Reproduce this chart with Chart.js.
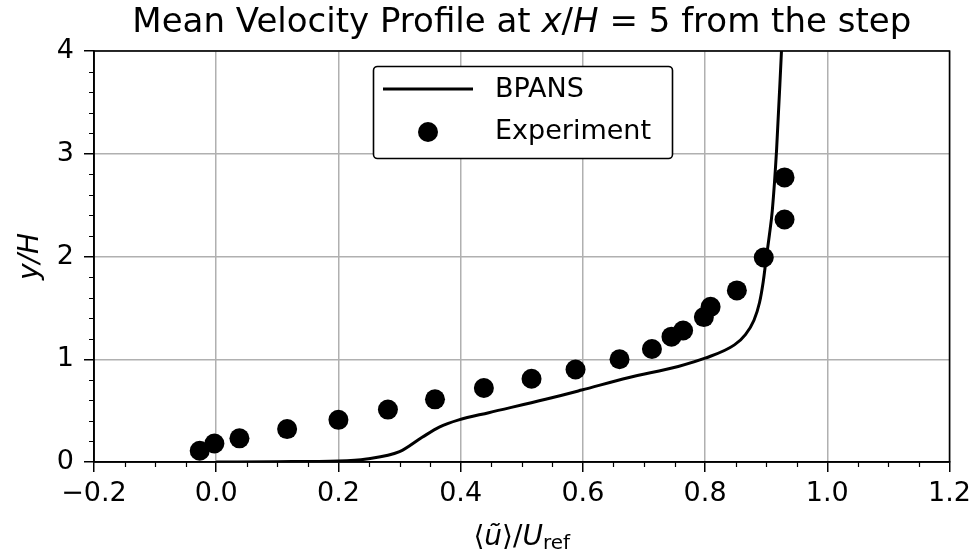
<!DOCTYPE html>
<html lang="en">
<head>
<meta charset="UTF-8">
<title>Mean Velocity Profile</title>
<script src="https://cdn.jsdelivr.net/npm/chart.js"></script>
<style>
  html, body { margin: 0; padding: 0; background: #fff; }
  #wrap { width: 977px; height: 556px; }
</style>
</head>
<body>
<div id="wrap"><canvas id="grafico"></canvas></div>
<script>
// BPANS profile (x = <u>/Uref, y = y/H)
var bpansX = [0.0, 0.1, 0.2, 0.246, 0.30, 0.337, 0.365, 0.397, 0.446, 0.539, 0.598, 0.674, 0.756, 0.80, 0.848, 0.866, 0.880, 0.889, 0.895, 0.900, 0.905, 0.910, 0.917, 0.925]
var bpansY = [0.0, 0.003, 0.01, 0.03, 0.10, 0.24, 0.34, 0.41, 0.48, 0.61, 0.70, 0.82, 0.93, 1.01, 1.14, 1.24, 1.38, 1.55, 1.75, 1.98, 2.20, 2.45, 3.04, 4.0]

// experiment points
var expX = [-0.027, -0.003, 0.038, 0.116, 0.2, 0.281, 0.358, 0.438, 0.516, 0.588, 0.66, 0.713, 0.745, 0.764, 0.798, 0.809, 0.852, 0.896, 0.93, 0.93]
var expY = [0.11, 0.18, 0.23, 0.32, 0.41, 0.51, 0.61, 0.72, 0.81, 0.90, 1.00, 1.10, 1.22, 1.28, 1.41, 1.51, 1.67, 1.99, 2.36, 2.77]

var xMajor = [-0.2, 0.0, 0.2, 0.4, 0.6, 0.8, 1.0, 1.2]
var yMajor = [0, 1, 2, 3, 4]

var FONT = "'DejaVu Sans', sans-serif"

function pares(xs, ys) {
    return xs.map(function (x, i) { return { x: x, y: ys[i] } })
}

// draws mixed-style text pieces centred on cx
function textoMisto(ctx, partes, cx, base) {
    var total = 0
    partes.forEach(function (p) {
        ctx.font = p[1] + ' ' + p[2] + 'px ' + FONT
        total += ctx.measureText(p[0]).width
    })
    var x = cx - total / 2
    partes.forEach(function (p) {
        ctx.font = p[1] + ' ' + p[2] + 'px ' + FONT
        ctx.fillText(p[0], x, base + (p[3] || 0))
        x += ctx.measureText(p[0]).width
    })
}

// frame, minor ticks, title, labels, legend
var extras = {
    id: 'extras',
    afterDraw: function (chart) {
        var ctx = chart.ctx
        var a = chart.chartArea
        var sx = chart.scales.x, sy = chart.scales.y
        ctx.save()

        // minor ticks
        ctx.strokeStyle = '#000'
        ctx.lineWidth = 1.2
        ctx.beginPath()
        for (var i = 0; i <= 28; i++) {
            if (i % 4 === 0) continue
            var px = Math.round(sx.getPixelForValue(-0.2 + i * 0.05)) + 0.5
            ctx.moveTo(px, a.bottom)
            ctx.lineTo(px, a.bottom + 5)
        }
        for (var j = 0; j <= 20; j++) {
            if (j % 5 === 0) continue
            var py = Math.round(sy.getPixelForValue(j * 0.2)) + 0.5
            ctx.moveTo(a.left, py)
            ctx.lineTo(a.left - 5, py)
        }
        ctx.stroke()

        // frame
        ctx.lineWidth = 1.6
        ctx.strokeRect(a.left, a.top, a.right - a.left, a.bottom - a.top)

        ctx.fillStyle = '#000'
        ctx.textBaseline = 'alphabetic'
        ctx.textAlign = 'left'
        var meio = (a.left + a.right) / 2

        // title
        textoMisto(ctx, [
            ['Mean Velocity Profile at ', 'normal', 34],
            ['x', 'italic', 34],
            ['/', 'normal', 34],
            ['H', 'italic', 34],
            [' = 5 from the step', 'normal', 34]
        ], meio, 32)

        // x label  <u~>/U_ref
        textoMisto(ctx, [
            ['\u27E8', 'normal', 28],
            ['\u0169', 'italic', 28],
            ['\u27E9/', 'normal', 28],
            ['U', 'italic', 28],
            ['ref', 'normal', 20, 4]
        ], meio, 545)

        // y label
        ctx.save()
        ctx.translate(38, (a.top + a.bottom) / 2)
        ctx.rotate(-Math.PI / 2)
        ctx.textAlign = 'center'
        ctx.font = 'italic 28px ' + FONT
        ctx.fillText('y/H', 0, 0)
        ctx.restore()

        // legend
        ctx.fillStyle = '#fff'
        ctx.strokeStyle = '#000'
        ctx.lineWidth = 1.6
        ctx.beginPath()
        ctx.roundRect(373.5, 66.5, 299, 92, 4)
        ctx.fill()
        ctx.stroke()

        ctx.lineWidth = 3
        ctx.beginPath()
        ctx.moveTo(383, 89)
        ctx.lineTo(473, 89)
        ctx.stroke()
        ctx.fillStyle = '#000'
        ctx.beginPath()
        ctx.arc(428, 132, 10, 0, Math.PI * 2)
        ctx.fill()

        ctx.font = '27px ' + FONT
        ctx.textBaseline = 'middle'
        ctx.fillText(chart.data.datasets[0].label, 495, 90)
        ctx.fillText(chart.data.datasets[1].label, 495, 132)

        ctx.restore()
    }
}

var ctx1 = document.getElementById('grafico')

new Chart(ctx1, {
    type: 'scatter',
    data: {
        datasets: [{
            label: 'BPANS',
            data: pares(bpansX, bpansY),
            showLine: true,
            borderColor: '#000',
            borderWidth: 3,
            pointRadius: 0,
            cubicInterpolationMode: 'monotone',
            order: 2
        }, {
            label: 'Experiment',
            data: pares(expX, expY),
            showLine: false,
            backgroundColor: '#000',
            borderColor: '#000',
            borderWidth: 0,
            pointRadius: 10,
            order: 1
        }]
    },
    options: {
        responsive: true,
        maintainAspectRatio: false,
        animation: false,
        layout: { padding: { left: 0, right: 24, top: 51, bottom: 0 } },
        plugins: {
            legend: { display: false },
            tooltip: { enabled: false },
            title: { display: false }
        },
        scales: {
            x: {
                type: 'linear',
                min: -0.2,
                max: 1.2,
                afterBuildTicks: function (s) {
                    s.ticks = xMajor.map(function (v) { return { value: v } })
                },
                afterFit: function (s) { s.height = 94 },
                ticks: {
                    color: '#000',
                    padding: 6,
                    font: { family: FONT, size: 27 },
                    callback: function (v) { return (v < 0 ? '\u2212' : '') + Math.abs(v).toFixed(1) }
                },
                grid: {
                    color: '#b0b0b0',
                    lineWidth: 1.5,
                    tickColor: '#000',
                    tickLength: 10,
                    tickWidth: 1.5
                },
                border: { color: '#000', width: 1.6 }
            },
            y: {
                type: 'linear',
                min: 0,
                max: 4,
                afterBuildTicks: function (s) {
                    s.ticks = yMajor.map(function (v) { return { value: v } })
                },
                afterFit: function (s) { s.width = 94 },
                ticks: {
                    color: '#000',
                    padding: 10,
                    font: { family: FONT, size: 27 },
                    callback: function (v) { return String(v) }
                },
                grid: {
                    color: '#b0b0b0',
                    lineWidth: 1.5,
                    tickColor: '#000',
                    tickLength: 10,
                    tickWidth: 1.5
                },
                border: { color: '#000', width: 1.6 }
            }
        }
    },
    plugins: [extras]
})
</script>
</body>
</html>
